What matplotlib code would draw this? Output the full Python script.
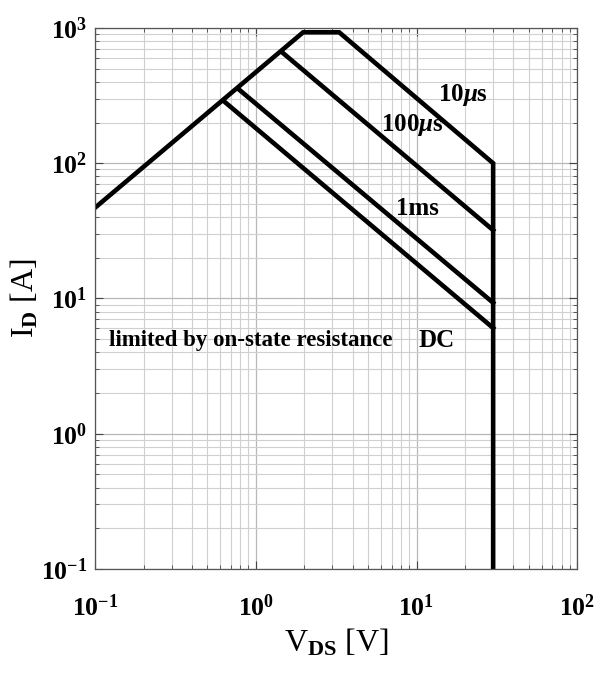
import matplotlib
matplotlib.use("Agg")
from matplotlib import pyplot as plt
from matplotlib.ticker import LogLocator

plt.rcParams['font.family'] = ['Liberation Serif', 'DejaVu Serif']
plt.rcParams['font.weight'] = 'bold'
plt.rcParams['mathtext.fontset'] = 'custom'
plt.rcParams['mathtext.rm'] = 'Liberation Serif:bold'
plt.rcParams['mathtext.it'] = 'Liberation Serif:italic:bold'
plt.rcParams['mathtext.bf'] = 'Liberation Serif:bold'
plt.rcParams['axes.unicode_minus'] = False

# safe operating area: outer envelope (on-resistance limit, 10us pulse, breakdown)
soa_v = [0.1, 1.97, 3.3, 30, 30]
soa_i = [47, 930, 930, 100, 0.1]

# pulse / DC limits
us100_v = [1.46, 30]
us100_i = [660, 32]
ms1_v = [0.776, 30]
ms1_i = [355, 9.3]
dc_v = [0.627, 30]
dc_i = [290, 6.05]

fig = plt.figure(figsize=(5.95, 6.9), dpi=100)
ax = fig.add_axes([0.16, 0.1754, 0.81, 0.784])

lw = 3.3
ax.plot(soa_v, soa_i, color='k', lw=lw, solid_joinstyle='miter')
ax.plot(us100_v, us100_i, color='k', lw=lw)
ax.plot(ms1_v, ms1_i, color='k', lw=lw)
ax.plot(dc_v, dc_i, color='k', lw=lw)

ax.set_xscale('log')
ax.set_yscale('log')
ax.set_xlim(0.1, 100)
ax.set_ylim(0.1, 1000)
ax.xaxis.set_major_locator(LogLocator(base=10, numticks=10))
ax.yaxis.set_major_locator(LogLocator(base=10, numticks=10))

ax.grid(True, which='major', color='#b8b8b8', lw=0.9)
ax.grid(True, which='minor', color='#d0d0d0', lw=0.8)
ax.set_axisbelow(True)
ax.tick_params(which='both', direction='in', top=True, right=True,
               labelsize=18.5, color='#444444')
ax.tick_params(which='major', length=6, width=0.8)
ax.tick_params(axis='x', which='major', pad=18)
ax.tick_params(axis='y', which='major', pad=6)
ax.tick_params(which='minor', length=3, width=0.6)
for s in ax.spines.values():
    s.set_color('#555555')
    s.set_linewidth(0.9)

ax.text(19.5, 320, r'10$\mu$s', fontsize=18, ha='center', va='center')
ax.text(9.4, 192, r'100$\mu$s', fontsize=18, ha='center', va='center')
ax.text(10.1, 46, '1ms', fontsize=18, ha='center', va='center')
ax.text(0.935, 4.93, 'limited by on-state resistance', fontsize=16.5,
        ha='center', va='center')
ax.text(13.4, 4.93, 'DC', fontsize=18, ha='center', va='center')

ax.set_xlabel(r'V$_{\rm DS}$ [V]', fontsize=23, labelpad=5)
ax.set_ylabel(r'I$_{\rm D}$ [A]', fontsize=23, labelpad=0)

fig.savefig('out.png', dpi=100)
